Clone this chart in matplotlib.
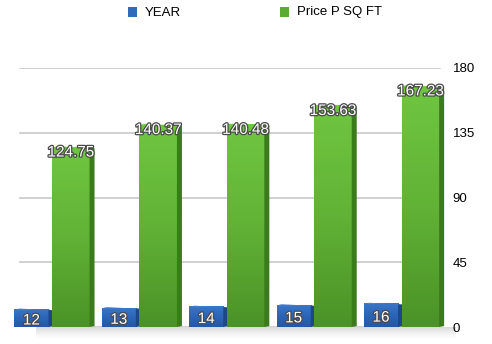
import numpy as np
import matplotlib
matplotlib.use("Agg")
import matplotlib.pyplot as plt
from matplotlib.patches import Rectangle, Polygon
from matplotlib.colors import LinearSegmentedColormap
import matplotlib.patheffects as pe

plt.rcParams['font.family'] = ['Liberation Sans', 'DejaVu Sans']

# Data
years = [12, 13, 14, 15, 16]
price_sqft = [124.75, 140.37, 140.48, 153.63, 167.23]
y_ticks = [0, 45, 90, 135, 180]
legend_labels = ["YEAR", "Price P SQ FT"]

W, H = 492, 344
fig = plt.figure(figsize=(W / 100, H / 100), dpi=100)
fig.patch.set_facecolor("white")

left_px, right_px = 10, 447
bottom_px, top_px = 344 - 327, 344 - 68
ax = fig.add_axes([left_px / W, bottom_px / H, (right_px - left_px) / W, (top_px - bottom_px) / H])
ax.set_xlim(-0.5, 4.5)
ax.set_ylim(0, 180)
for s in ax.spines.values():
    s.set_visible(False)
ax.set_xticks([])
ax.yaxis.tick_right()
ax.set_yticks(y_ticks)
ax.set_yticklabels([str(t) for t in y_ticks], fontsize=9.5, color="#000000")
ax.tick_params(axis="y", length=0, pad=4)

# horizontal gridlines
for t in y_ticks:
    ax.axhline(t, xmin=(20 - left_px) / (right_px - left_px), xmax=(440 - left_px) / (right_px - left_px),
               color="#c8c8c8", lw=1.2, zorder=0)

# soft floor shadow
ax.imshow(np.linspace(1, 0, 20)[:, None] * np.ones((1, 50)) * 0.35,
          extent=(-0.2, 4.6, -8, 0), aspect="auto", cmap="Greys", vmin=0, vmax=1,
          zorder=0.5, clip_on=False, alpha=0.6)

green_cmap = LinearSegmentedColormap.from_list("g", ["#4b9327", "#61b236", "#6fc640"])
blue_cmap = LinearSegmentedColormap.from_list("b", ["#2457a8", "#2c65b8", "#3a75c6"])

px_x = 5 / 87.4   # side depth in x units
px_y = 3 / 1.44   # top depth in y units


def bar3d(x0, x1, h, cmap, side_col, top_col, z):
    grad = np.linspace(0, 1, 64)[:, None]
    im = ax.imshow(grad, extent=(x0, x1, 0, h), origin="lower", aspect="auto",
                   cmap=cmap, zorder=z, clip_on=False)
    rect = Rectangle((x0, 0), x1 - x0, h, transform=ax.transData, facecolor="none", edgecolor="none")
    ax.add_patch(rect)
    im.set_clip_path(rect)
    ax.add_patch(Polygon([(x1, 0), (x1 + px_x, px_y * 0.3), (x1 + px_x, h - px_y * 0.2), (x1, h)],
                         closed=True, facecolor=side_col, edgecolor="none", zorder=z, clip_on=False))
    ax.add_patch(Polygon([(x0, h), (x1, h), (x1 + px_x, h - px_y * 0.2), (x0 + px_x, h + px_y * 0.4)],
                         closed=True, facecolor=top_col, edgecolor="none", zorder=z, clip_on=False))


outline = [pe.withStroke(linewidth=1.8, foreground="#4a4a4a")]

for i, (yr, p) in enumerate(zip(years, price_sqft)):
    # YEAR bar
    bx0, bx1 = i - 0.45, i - 0.06
    bar3d(bx0, bx1, yr, blue_cmap, "#1d4788", "#4a82cc", 2)
    ax.text((bx0 + bx1) / 2, yr / 2 - 1.5, str(yr), ha="center", va="center", fontsize=11,
            color="white", zorder=5, path_effects=outline)
    # Price bar
    gx0, gx1 = i - 0.02, i + 0.41
    bar3d(gx0, gx1, p, green_cmap, "#3b7a1d", "#7bcf4a", 3)
    ax.text((gx0 + gx1) / 2, p - 3.5, f"{p:.2f}", ha="center", va="center", fontsize=11,
            color="white", zorder=6, path_effects=outline)

# legend
fig.patches.append(Rectangle((128 / W, 1 - 16.5 / H), 9 / W, 9 / H, transform=fig.transFigure,
                             facecolor="#2f6abb", edgecolor="none"))
fig.text(145 / W, 1 - 12.5 / H, legend_labels[0], fontsize=9.5, va="center", ha="left", color="#000000")
fig.patches.append(Rectangle((280 / W, 1 - 16.5 / H), 9 / W, 9 / H, transform=fig.transFigure,
                             facecolor="#5aab32", edgecolor="none"))
fig.text(297 / W, 1 - 12.5 / H, legend_labels[1], fontsize=9.5, va="center", ha="left", color="#000000")

fig.savefig("out.png", dpi=100, facecolor="white")
